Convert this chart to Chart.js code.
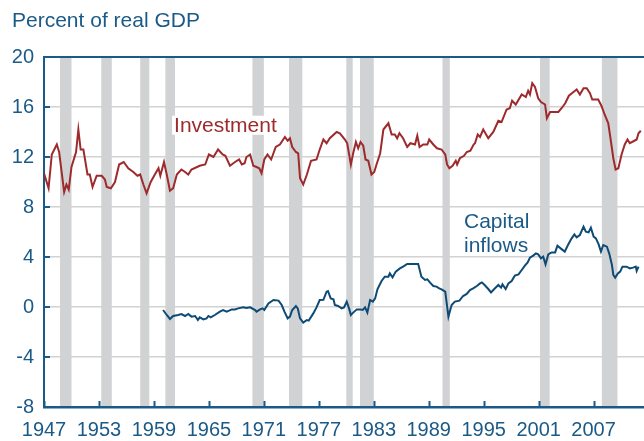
<!DOCTYPE html>
<html>
<head>
<meta charset="utf-8">
<script src="https://cdn.jsdelivr.net/npm/chart.js@4"></script>
<style>
  html, body { margin: 0; padding: 0; background: #fff; }
  #wrap { width: 644px; height: 441px; }
</style>
</head>
<body>
<div id="wrap"><canvas id="c" width="644" height="441"></canvas></div>
<script>
// ---- Data ----
const investYears = [1947.0,1947.5,1947.85,1948.4,1948.65,1949.2,1949.45,1949.7,1950.0,1950.5,1950.75,1951.0,1951.3,1951.75,1952.0,1952.3,1952.75,1953.3,1953.65,1953.85,1954.3,1954.75,1955.2,1955.7,1956.2,1956.75,1957.2,1957.5,1957.85,1958.2,1958.65,1959.1,1959.5,1959.7,1960.1,1960.4,1960.75,1961.1,1961.5,1962.0,1962.4,1962.75,1963.1,1964.0,1964.6,1965.0,1965.5,1966.0,1966.5,1966.8,1967.3,1967.85,1968.3,1968.6,1968.9,1969.1,1969.5,1969.85,1970.2,1970.5,1970.75,1971.05,1971.4,1971.8,1972.3,1972.75,1973.3,1973.6,1973.85,1974.1,1974.5,1974.75,1974.95,1975.3,1975.7,1976.15,1976.75,1977.1,1977.5,1977.85,1978.2,1978.95,1979.3,1979.85,1980.1,1980.5,1980.75,1981.05,1981.3,1981.55,1981.85,1982.1,1982.4,1982.75,1983.05,1983.3,1983.7,1984.05,1984.6,1984.95,1985.3,1985.55,1985.8,1986.2,1986.65,1987.0,1987.5,1987.75,1988.0,1988.4,1988.85,1989.05,1989.5,1989.9,1990.4,1990.8,1991.0,1991.25,1991.6,1991.95,1992.1,1992.4,1992.85,1993.15,1993.55,1993.9,1994.05,1994.35,1994.6,1994.95,1995.5,1996.05,1996.6,1996.95,1997.5,1997.85,1998.1,1998.5,1999.15,1999.6,1999.85,2000.05,2000.3,2000.6,2000.95,2001.25,2001.7,2001.9,2002.25,2003.15,2003.5,2003.9,2004.3,2004.8,2005.15,2005.5,2005.9,2006.25,2006.6,2006.85,2007.2,2007.5,2007.85,2008.2,2008.6,2008.9,2009.15,2009.4,2009.7,2010.05,2010.4,2010.7,2010.95,2011.45,2011.7,2011.9,2012.15];
const investValues = [10.7,9.5,12.2,13.0,12.4,9.2,9.8,9.4,11.2,12.4,14.2,12.6,12.6,10.6,10.6,9.6,10.5,10.5,10.2,9.6,9.5,10.0,11.4,11.6,11.1,10.8,10.5,10.6,9.8,9.1,10.0,10.6,11.1,10.5,11.6,10.6,9.3,9.5,10.6,11.0,10.8,10.6,11.0,11.3,11.4,12.2,12.0,12.6,12.2,12.1,11.3,11.6,11.8,11.4,11.5,12.0,12.2,11.3,11.2,11.1,10.7,11.8,12.2,11.8,12.8,13.0,13.6,13.3,13.5,12.8,12.4,12.3,10.3,9.8,10.6,11.7,11.8,12.6,13.4,13.1,13.5,14.0,13.9,13.4,13.1,11.4,12.3,13.2,12.7,13.2,12.9,11.8,11.7,10.6,10.8,11.4,12.3,14.2,14.7,13.8,13.8,13.5,13.9,13.5,12.8,13.1,13.0,13.7,12.8,13.0,13.0,13.4,13.0,12.7,12.6,12.2,11.4,11.1,11.3,11.7,11.4,11.9,12.1,12.4,12.5,13.0,13.1,13.8,13.6,14.2,13.5,14.0,14.9,14.8,15.8,15.9,16.5,16.2,17.0,16.8,17.3,17.0,17.9,17.6,16.7,16.4,16.2,15.1,15.6,15.6,15.9,16.3,16.9,17.2,17.4,17.0,17.5,17.5,17.1,16.6,16.6,16.6,16.1,15.4,14.7,13.2,11.9,11.0,11.1,12.2,13.0,13.4,13.1,13.3,13.4,13.9,14.1];

const inflowYears = [1960.0,1960.4,1960.75,1961.1,1961.65,1962.0,1962.4,1962.75,1963.1,1963.5,1963.8,1964.0,1964.4,1964.75,1964.95,1965.2,1965.65,1966.2,1966.55,1966.95,1967.5,1967.85,1968.2,1968.75,1969.1,1969.5,1970.05,1970.2,1970.6,1970.85,1971.05,1971.5,1972.05,1972.6,1972.95,1973.25,1973.6,1973.85,1974.1,1974.5,1974.7,1974.95,1975.3,1975.7,1975.9,1976.4,1976.75,1977.1,1977.5,1977.85,1978.0,1978.3,1978.6,1978.75,1979.1,1979.5,1979.75,1980.05,1980.3,1980.5,1980.75,1981.15,1981.5,1981.8,1982.05,1982.3,1982.6,1982.9,1983.15,1983.4,1983.85,1984.2,1984.6,1984.75,1985.05,1985.4,1985.85,1986.2,1986.65,1987.3,1987.85,1988.2,1988.6,1988.85,1989.15,1989.5,1989.85,1990.15,1990.4,1990.8,1991.15,1991.5,1991.85,1992.35,1992.75,1993.15,1993.5,1993.85,1994.25,1994.6,1994.8,1995.1,1995.5,1995.8,1996.15,1996.6,1996.9,1997.05,1997.4,1997.7,1998.05,1998.4,1998.8,1999.15,1999.5,1999.8,2000.05,2000.4,2000.7,2000.95,2001.25,2001.5,2001.75,2002.05,2002.4,2002.8,2003.05,2003.4,2003.85,2004.2,2004.6,2004.9,2005.15,2005.5,2005.9,2006.15,2006.45,2006.7,2007.0,2007.25,2007.55,2007.8,2008.05,2008.45,2008.7,2009.0,2009.15,2009.35,2009.65,2009.9,2010.15,2010.6,2010.95,2011.3,2011.6,2011.7,2011.9];
const inflowValues = [-0.24,-0.64,-0.96,-0.72,-0.64,-0.56,-0.72,-0.56,-0.77,-0.72,-1.04,-0.83,-0.99,-0.91,-0.72,-0.83,-0.64,-0.37,-0.24,-0.37,-0.19,-0.19,-0.11,-0.03,-0.08,-0.03,-0.24,-0.37,-0.19,-0.11,-0.24,0.29,0.56,0.51,0.16,-0.37,-0.91,-0.77,-0.24,0.08,-0.11,-0.91,-1.25,-1.04,-1.09,-0.51,-0.03,0.56,0.58,1.23,1.28,0.69,0.61,0.16,0.08,-0.11,-0.03,0.43,-0.11,-0.64,-0.45,-0.19,-0.19,-0.24,-0.03,-0.45,0.56,0.43,0.69,1.41,2.08,2.43,2.43,2.69,2.37,2.83,3.09,3.23,3.44,3.44,3.44,2.43,2.16,2.21,1.95,1.68,1.63,1.49,1.41,1.23,-0.77,0.16,0.43,0.51,0.88,1.04,1.36,1.49,1.68,1.89,1.97,1.76,1.44,1.17,1.44,1.76,1.55,1.81,1.44,1.89,2.08,2.51,2.61,2.96,3.31,3.57,3.95,4.11,4.29,4.21,3.89,4.03,3.41,4.21,4.37,4.37,4.91,4.69,4.43,4.96,5.49,5.81,5.57,5.76,6.43,6.03,5.97,6.35,5.63,5.49,5.01,4.43,4.96,4.83,4.29,3.36,2.56,2.35,2.69,2.83,3.23,3.23,3.09,3.15,3.23,2.88,3.23];

const recessionStarts = [1948.75,1953.25,1957.5,1960.25,1969.75,1973.75,1980.0,1981.5,1990.5,2001.15,2007.9];
const recessionEnds   = [1950.0,1954.4,1958.5,1961.3,1971.0,1975.2,1980.7,1983.0,1991.3,2002.2,2009.6];

const xTickYears = [1947,1953,1959,1965,1971,1977,1983,1989,1995,2001,2007];
const yTickValues = [-8,-4,0,4,8,12,16,20];

const seriesNames = ['Investment', 'Capital inflows'];
const titleText = 'Percent of real GDP';

// ---- Styles ----
const BLUE_TEXT = '#1b5a87';
const BLUE_AXIS = '#1a5a88';
const RED_LINE = '#9d2a2c';
const NAVY_LINE = '#0d4b76';
const GRID = '#d2d2d2';
const SHADE = '#d1d2d4';
const FONT = '"Liberation Sans", Arial, Helvetica, sans-serif';

const investData = investYears.map((x, i) => ({ x, y: investValues[i] }));
const inflowData = inflowYears.map((x, i) => ({ x, y: inflowValues[i] }));

const decor = {
  id: 'decor',
  beforeDatasetsDraw(chart) {
    const { ctx, chartArea: a, scales: { x } } = chart;
    ctx.save();
    ctx.fillStyle = SHADE;
    for (let i = 0; i < recessionStarts.length; i++) {
      const x0 = x.getPixelForValue(recessionStarts[i]);
      const x1 = x.getPixelForValue(recessionEnds[i]);
      ctx.fillRect(x0, a.top + 1, x1 - x0, a.bottom - a.top - 2);
    }
    ctx.restore();
  },
  afterDatasetsDraw(chart) {
    const { ctx, chartArea: a, scales: { x, y } } = chart;
    ctx.save();
    // inner tick marks
    ctx.strokeStyle = BLUE_AXIS;
    ctx.lineWidth = 2;
    ctx.beginPath();
    xTickYears.forEach(v => {
      const px = Math.round(x.getPixelForValue(v)) + 0.5;
      ctx.moveTo(px, a.bottom);
      ctx.lineTo(px, a.bottom - 6);
    });
    yTickValues.forEach(v => {
      const py = Math.round(y.getPixelForValue(v));
      ctx.moveTo(a.left, py);
      ctx.lineTo(a.left + 6, py);
    });
    ctx.stroke();

    // series labels
    ctx.font = '21px ' + FONT;
    ctx.textBaseline = 'alphabetic';
    ctx.textAlign = 'left';
    const ix = x.getPixelForValue(1961.2), iy = y.getPixelForValue(14.02);
    const iw = ctx.measureText(seriesNames[0]).width;
    ctx.fillStyle = '#ffffff';
    ctx.fillRect(ix - 2, iy - 16, iw + 4, 19);
    ctx.fillStyle = RED_LINE;
    ctx.fillText(seriesNames[0], ix, iy);

    const words = seriesNames[1].split(' ');
    const cx = x.getPixelForValue(1992.85);
    ctx.fillStyle = BLUE_TEXT;
    ctx.fillText(words[0], cx, y.getPixelForValue(6.3));
    ctx.fillText(words[1], cx, y.getPixelForValue(4.42));
    ctx.restore();
  },
  afterDraw(chart) {
    const { ctx } = chart;
    ctx.save();
    ctx.font = '21px ' + FONT;
    ctx.fillStyle = BLUE_TEXT;
    ctx.textBaseline = 'alphabetic';
    ctx.textAlign = 'left';
    ctx.fillText(titleText, 12, 27);
    ctx.restore();
  }
};

new Chart(document.getElementById('c'), {
  type: 'line',
  data: {
    datasets: [
      { label: seriesNames[0], data: investData, borderColor: RED_LINE, borderWidth: 2, pointRadius: 0, tension: 0, fill: false },
      { label: seriesNames[1], data: inflowData, borderColor: NAVY_LINE, borderWidth: 2, pointRadius: 0, tension: 0, fill: false }
    ]
  },
  options: {
    responsive: false,
    animation: false,
    events: [],
    layout: { padding: { top: 57, left: 0, right: 0, bottom: 0 } },
    plugins: { legend: { display: false }, title: { display: false }, tooltip: { enabled: false } },
    scales: {
      x: {
        type: 'linear',
        min: 1947,
        max: 2012.5,
        afterBuildTicks: s => { s.ticks = xTickYears.map(v => ({ value: v })); },
        afterFit: s => { s.height = 34; },
        grid: { display: false, drawTicks: false },
        border: { display: true, color: BLUE_AXIS, width: 2.5 },
        ticks: {
          color: BLUE_TEXT,
          font: { family: FONT, size: 20 },
          padding: 11,
          maxRotation: 0,
          autoSkip: false,
          callback: v => String(v)
        }
      },
      y: {
        min: -8,
        max: 20,
        afterBuildTicks: s => { s.ticks = yTickValues.map(v => ({ value: v })); },
        afterFit: s => { s.width = 44; },
        grid: {
          drawTicks: false,
          color: c => (c.tick && c.tick.value === 20 ? BLUE_AXIS : GRID),
          lineWidth: c => (c.tick && c.tick.value === 20 ? 2 : 1.5)
        },
        border: { display: true, color: BLUE_AXIS, width: 2 },
        ticks: {
          color: BLUE_TEXT,
          font: { family: FONT, size: 20 },
          padding: 10,
          callback: v => String(v)
        }
      }
    }
  },
  plugins: [decor]
});
</script>
</body>
</html>
